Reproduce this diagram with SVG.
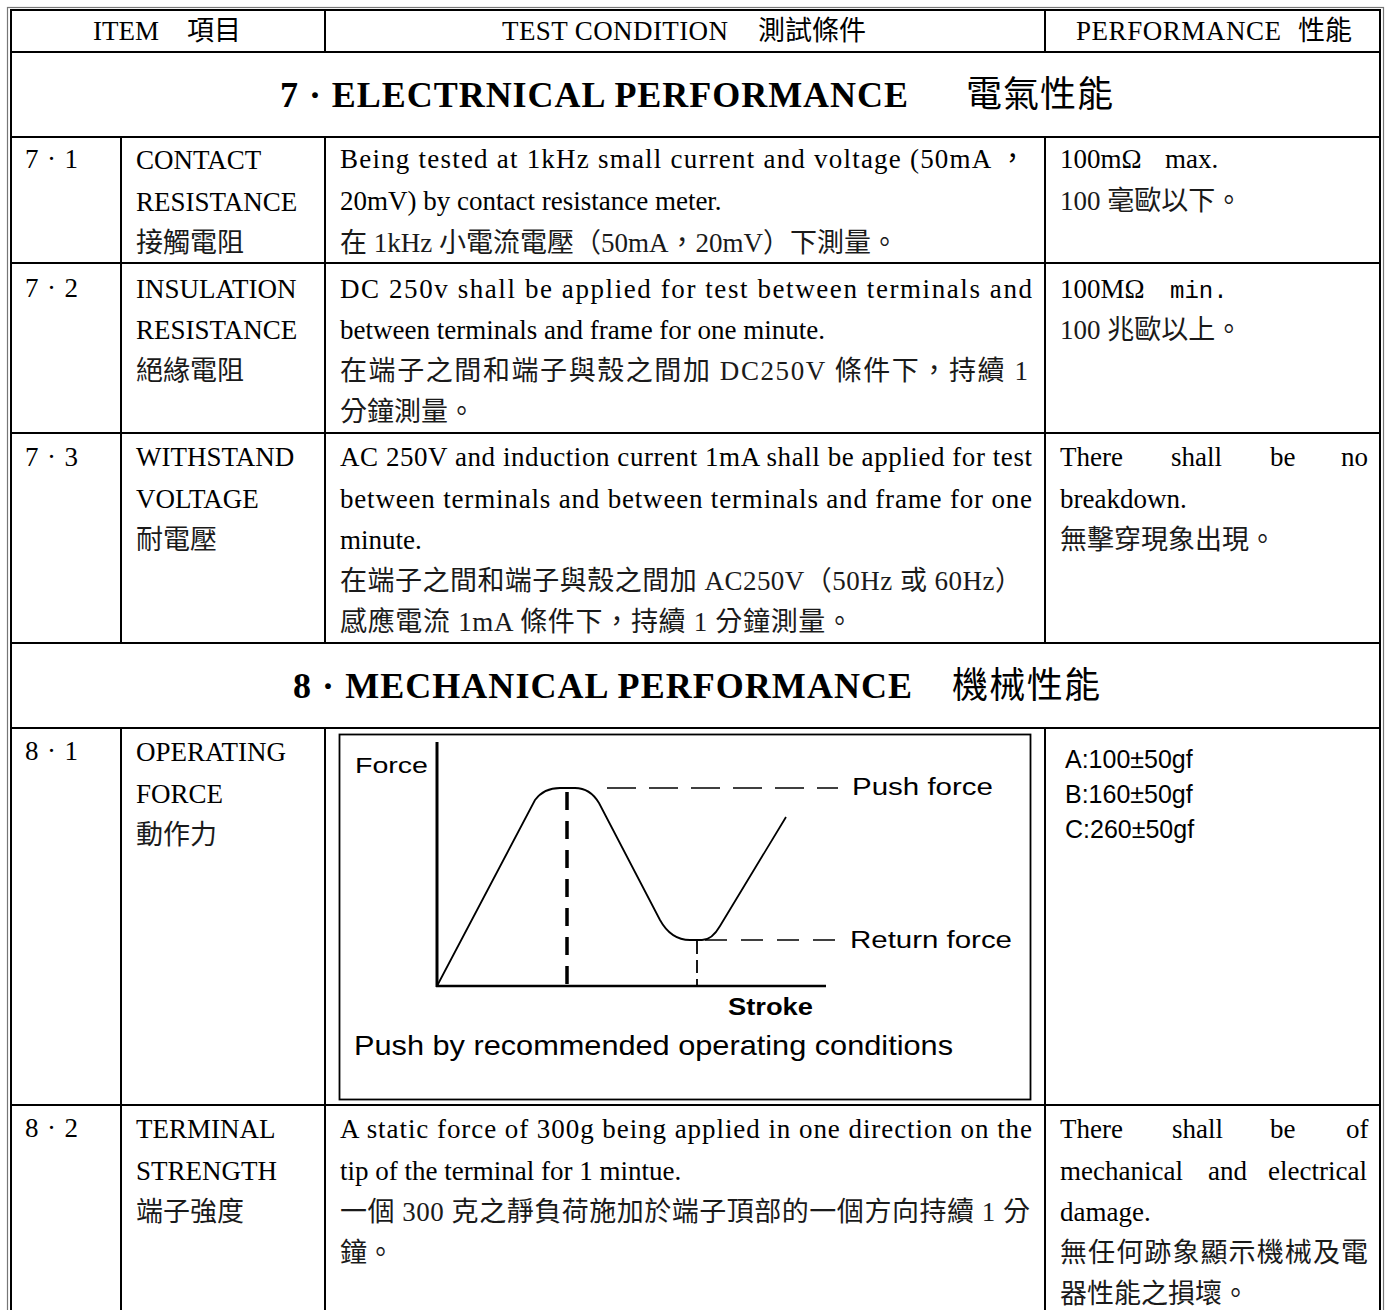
<svg xmlns="http://www.w3.org/2000/svg" width="1387" height="1310" viewBox="0 0 1387 1310">
<style>
.t{font-family:"Liberation Serif","Noto Sans CJK TC",serif;font-size:27px;fill:#000}
.h{font-family:"Liberation Serif","Noto Sans CJK TC",serif;font-size:27px;fill:#000}
.cjk{fill:#1a1a1a}
.sec{font-family:"Liberation Serif",serif;font-size:36px;font-weight:bold;fill:#000}
.secc{font-family:"Noto Sans CJK TC",sans-serif;font-size:36px;fill:#000}
.a{font-family:"Liberation Sans",Arial,sans-serif;fill:#000}
.grid line{stroke:#000;stroke-width:2}
</style>
<rect width="1387" height="1310" fill="#fff"/>
<g id="grid" class="grid">
<rect x="7.5" y="7.5" width="1376" height="1310" fill="none" stroke="#777" stroke-width="1.2"/>
<rect x="11" y="10" width="1369" height="1310" fill="none" stroke="#000" stroke-width="2"/>
<line x1="11" y1="52" x2="1380" y2="52"/>
<line x1="11" y1="137" x2="1380" y2="137"/>
<line x1="11" y1="263" x2="1380" y2="263"/>
<line x1="11" y1="433" x2="1380" y2="433"/>
<line x1="11" y1="643" x2="1380" y2="643"/>
<line x1="11" y1="728" x2="1380" y2="728"/>
<line x1="11" y1="1105" x2="1380" y2="1105"/>
<line x1="325" y1="10" x2="325" y2="52"/>
<line x1="1045" y1="10" x2="1045" y2="52"/>
<line x1="121" y1="137" x2="121" y2="643"/>
<line x1="325" y1="137" x2="325" y2="643"/>
<line x1="1045" y1="137" x2="1045" y2="643"/>
<line x1="121" y1="728" x2="121" y2="1310"/>
<line x1="325" y1="728" x2="325" y2="1310"/>
<line x1="1045" y1="728" x2="1045" y2="1310"/>
</g>
<g id="header">
<text class="h" x="93" y="40">ITEM<tspan x="187">項目</tspan></text>
<text class="h" x="502" y="40" textLength="226" lengthAdjust="spacing">TEST CONDITION</text>
<text class="h" x="758" y="40">測試條件</text>
<text class="h" x="1076" y="40" textLength="205" lengthAdjust="spacing">PERFORMANCE</text>
<text class="h" x="1298" y="40">性能</text>
</g>
<g id="section7">
<text class="sec" x="280" y="107" textLength="628" lengthAdjust="spacing">7 · ELECTRNICAL PERFORMANCE</text>
<text class="secc" x="966" y="107" textLength="147" lengthAdjust="spacing">電氣性能</text>
</g>
<g id="row7-1">
<text class="t" x="25" y="168" textLength="53">7 · 1</text>
<text class="t" x="136" y="169">CONTACT</text>
<text class="t" x="136" y="211">RESISTANCE</text>
<text class="t cjk" x="136" y="252">接觸電阻</text>
<text class="t" x="340" y="168" textLength="686" lengthAdjust="spacing">Being tested at 1kHz small current and voltage (50mA ，</text>
<text class="t" x="340" y="210">20mV) by contact resistance meter.</text>
<text class="t cjk" x="340" y="252">在 1kHz 小電流電壓（50mA，20mV）下測量。</text>
<text class="t" x="1060" y="168">100mΩ<tspan x="1165">max.</tspan></text>
<text class="t cjk" x="1060" y="210">100 毫歐以下。</text>
</g>
<g id="row7-2">
<text class="t" x="25" y="297" textLength="53">7 · 2</text>
<text class="t" x="136" y="298">INSULATION</text>
<text class="t" x="136" y="339">RESISTANCE</text>
<text class="t cjk" x="136" y="380">絕緣電阻</text>
<text class="t" x="340" y="298" textLength="692" lengthAdjust="spacing">DC 250v shall be applied for test between terminals and</text>
<text class="t" x="340" y="339">between terminals and frame for one minute.</text>
<text class="t cjk" x="340" y="380" textLength="688" lengthAdjust="spacing">在端子之間和端子與殼之間加 DC250V 條件下，持續 1</text>
<text class="t cjk" x="340" y="421">分鐘測量。</text>
<text class="t" x="1060" y="298">100MΩ<tspan x="1170" font-family="Liberation Mono,monospace" font-size="24">min.</tspan></text>
<text class="t cjk" x="1060" y="339">100 兆歐以上。</text>
</g>
<g id="row7-3">
<text class="t" x="25" y="466" textLength="53">7 · 3</text>
<text class="t" x="136" y="466">WITHSTAND</text>
<text class="t" x="136" y="508">VOLTAGE</text>
<text class="t cjk" x="136" y="549">耐電壓</text>
<text class="t" x="340" y="466" textLength="692" lengthAdjust="spacing">AC 250V and induction current 1mA shall be applied for test</text>
<text class="t" x="340" y="508" textLength="692" lengthAdjust="spacing">between terminals and between terminals and frame for one</text>
<text class="t" x="340" y="549">minute.</text>
<text class="t cjk" x="340" y="590" textLength="682" lengthAdjust="spacing">在端子之間和端子與殼之間加 AC250V（50Hz 或 60Hz）</text>
<text class="t cjk" x="340" y="631" textLength="513" lengthAdjust="spacing">感應電流 1mA 條件下，持續 1 分鐘測量。</text>
<text class="t" x="1060" y="466">There<tspan x="1171">shall</tspan><tspan x="1270">be</tspan><tspan x="1341">no</tspan></text>
<text class="t" x="1060" y="508">breakdown.</text>
<text class="t cjk" x="1060" y="549">無擊穿現象出現。</text>
</g>
<g id="section8">
<text class="sec" x="293" y="698" textLength="619" lengthAdjust="spacing">8 · MECHANICAL PERFORMANCE</text>
<text class="secc" x="952" y="698" textLength="148" lengthAdjust="spacing">機械性能</text>
</g>
<g id="row8-1">
<text class="t" x="25" y="760" textLength="53">8 · 1</text>
<text class="t" x="136" y="761">OPERATING</text>
<text class="t" x="136" y="803">FORCE</text>
<text class="t cjk" x="136" y="844">動作力</text>
<text class="a" x="1065" y="768" font-size="25">A:100±50gf</text>
<text class="a" x="1065" y="803" font-size="25">B:160±50gf</text>
<text class="a" x="1065" y="838" font-size="25">C:260±50gf</text>
</g>
<g id="chart">
<rect x="339.5" y="734.5" width="691" height="365" fill="none" stroke="#000" stroke-width="1.8"/>
<text class="a" x="355" y="773" font-size="22" textLength="73" lengthAdjust="spacingAndGlyphs">Force</text>
<line x1="437" y1="742" x2="437" y2="987" stroke="#000" stroke-width="3"/>
<line x1="436" y1="986" x2="826" y2="986" stroke="#000" stroke-width="2.5"/>
<path d="M437,986 L535,800 Q544,788 560,788 L575,788 Q590,788 599,803 L660,920 Q671,940 690,940 L702,940 Q712,940 720,926 L786,817" fill="none" stroke="#000" stroke-width="1.8"/>
<line x1="567" y1="792" x2="567" y2="986" stroke="#000" stroke-width="3.5" stroke-dasharray="18,11"/>
<line x1="607" y1="788" x2="838" y2="788" stroke="#000" stroke-width="1.6" stroke-dasharray="29,13"/>
<line x1="705" y1="940" x2="836" y2="940" stroke="#000" stroke-width="1.6" stroke-dasharray="22,14"/>
<line x1="697" y1="941" x2="697" y2="986" stroke="#000" stroke-width="1.8" stroke-dasharray="13,6"/>
<text class="a" x="852" y="795" font-size="23" textLength="141" lengthAdjust="spacingAndGlyphs">Push force</text>
<text class="a" x="850" y="948" font-size="23" textLength="162" lengthAdjust="spacingAndGlyphs">Return force</text>
<text class="a" x="728" y="1015" font-size="23" font-weight="bold" textLength="85" lengthAdjust="spacingAndGlyphs">Stroke</text>
<text class="a" x="354" y="1055" font-size="28" textLength="599" lengthAdjust="spacingAndGlyphs">Push by recommended operating conditions</text>
</g>
<g id="row8-2">
<text class="t" x="25" y="1137" textLength="53">8 · 2</text>
<text class="t" x="136" y="1138">TERMINAL</text>
<text class="t" x="136" y="1180">STRENGTH</text>
<text class="t cjk" x="136" y="1221">端子強度</text>
<text class="t" x="340" y="1138" textLength="692" lengthAdjust="spacing">A static force of 300g being applied in one direction on the</text>
<text class="t" x="340" y="1180">tip of the terminal for 1 mintue.</text>
<text class="t cjk" x="340" y="1221" textLength="690" lengthAdjust="spacing">一個 300 克之靜負荷施加於端子頂部的一個方向持續 1 分</text>
<text class="t cjk" x="340" y="1262">鐘。</text>
<text class="t" x="1060" y="1138">There<tspan x="1172">shall</tspan><tspan x="1270">be</tspan><tspan x="1346">of</tspan></text>
<text class="t" x="1060" y="1180">mechanical<tspan x="1208">and</tspan><tspan x="1268">electrical</tspan></text>
<text class="t" x="1060" y="1221">damage.</text>
<text class="t cjk" x="1060" y="1262" textLength="308" lengthAdjust="spacing">無任何跡象顯示機械及電</text>
<text class="t cjk" x="1060" y="1303">器性能之損壞。</text>
</g>
</svg>
